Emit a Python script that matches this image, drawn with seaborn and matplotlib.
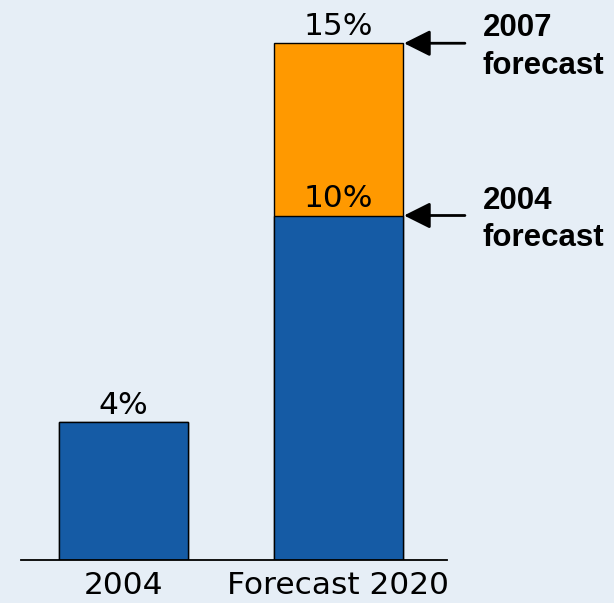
import matplotlib
matplotlib.use("Agg")
import matplotlib.pyplot as plt
import seaborn as sns
import pandas as pd

categories = ["2004", "Forecast 2020"]
base_values = [4, 10]          # blue: actual 2004 / 2004 forecast
total_values = [4, 15]         # top of stack: 2007 forecast
labels_base = ["4%", "10%"]
labels_top = ["", "15%"]
arrow_labels = [("2007", "forecast"), ("2004", "forecast")]
arrow_values = [15, 10]

BG = "#e6eef6"
BLUE = "#155ba5"
ORANGE = "#ff9900"

sns.set_theme(style="white")
plt.rcParams["font.family"] = ["DejaVu Sans"]
plt.rcParams["text.color"] = "black"

W, H = 614, 603
fig = plt.figure(figsize=(W / 100, H / 100), dpi=100, facecolor=BG)
# axes: baseline at y=560px, x from 21 to 447 px
ax = fig.add_axes([21 / W, (H - 560) / H, (447 - 21) / W, 560 / H])
ax.set_facecolor(BG)

df_total = pd.DataFrame({"cat": categories, "val": total_values})
df_base = pd.DataFrame({"cat": categories, "val": base_values})

sns.barplot(data=df_total, x="cat", y="val", hue="cat",
            palette=[BLUE, ORANGE], width=0.6, edgecolor="black",
            linewidth=1, legend=False, ax=ax)
sns.barplot(data=df_base, x="cat", y="val", color=BLUE, saturation=1,
            width=0.6, edgecolor="black", linewidth=1, ax=ax)
# ensure exact colours (no desaturation)
for i, p in enumerate(ax.patches[:2]):
    p.set_facecolor([BLUE, ORANGE][i])
for p in ax.patches[2:]:
    p.set_facecolor(BLUE)

ax.set_xlim(-0.477, 1.505)
ax.set_ylim(0, 560 / 34.45)

for s in ["top", "right", "left"]:
    ax.spines[s].set_visible(False)
ax.spines["bottom"].set_color("black")
ax.spines["bottom"].set_linewidth(1.3)
ax.set_yticks([])
ax.set_xlabel("")
ax.set_ylabel("")
ax.tick_params(axis="x", length=0, pad=8, labelsize=22.5, colors="black")

# value labels
for i, (v, lab) in enumerate(zip(base_values, labels_base)):
    ax.annotate(lab, (i, v), xytext=(0, 6), textcoords="offset points",
                ha="center", va="baseline", fontsize=22.5, color="black")
for i, (v, lab) in enumerate(zip(total_values, labels_top)):
    if lab:
        ax.annotate(lab, (i, v), xytext=(0, 6), textcoords="offset points",
                    ha="center", va="baseline", fontsize=22.5, color="black")

# arrows + bold side labels
for (l1, l2), v in zip(arrow_labels, arrow_values):
    x_tip = 1.3 + 0.005
    x_tail = (465 - 123.5) / 215
    ax.annotate("", xy=(x_tip, v), xytext=(x_tail, v),
                annotation_clip=False,
                arrowprops=dict(arrowstyle="-|>,head_length=0.8,head_width=0.4",
                                mutation_scale=20, color="black", lw=2,
                                shrinkA=0, shrinkB=0))
    x_txt = (483 - 123.5) / 215
    ax.annotate(l1, (x_txt, v), xytext=(0, 5), textcoords="offset points",
                ha="left", va="baseline", fontsize=22.5, fontweight="bold",
                family="Liberation Sans", color="black", annotation_clip=False)
    ax.annotate(l2, (x_txt, v), xytext=(0, -22), textcoords="offset points",
                ha="left", va="baseline", fontsize=22.5, fontweight="bold",
                family="Liberation Sans", color="black", annotation_clip=False)

fig.savefig("out.png", dpi=100, facecolor=BG)
